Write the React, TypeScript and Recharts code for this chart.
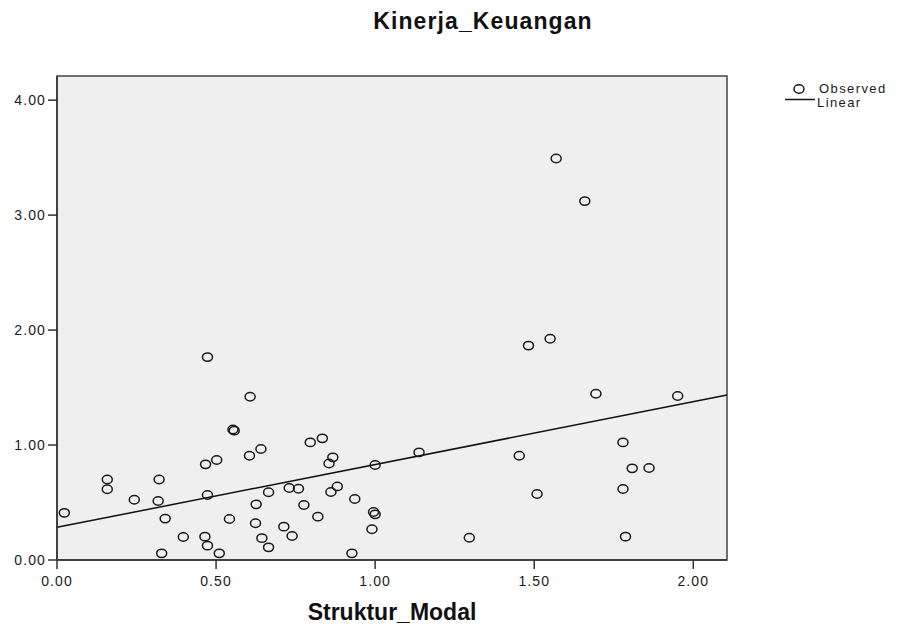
import React from 'react';
import { ComposedChart, Scatter, XAxis, YAxis, ReferenceArea, ReferenceLine } from 'recharts';

const xValues = [0.023, 0.158, 0.158, 0.243, 0.321, 0.318, 0.340, 0.329, 0.397, 0.473, 0.467, 0.502, 0.473, 0.465, 0.473, 0.510, 0.542, 0.553, 0.557, 0.607, 0.605, 0.641, 0.626, 0.624, 0.644, 0.665, 0.665, 0.730, 0.713, 0.739, 0.759, 0.776, 0.796, 0.834, 0.820, 0.855, 0.867, 0.861, 0.881, 0.936, 0.927, 0.995, 1.0, 0.990, 1.0, 1.138, 1.296, 1.453, 1.482, 1.569, 1.659, 1.550, 1.694, 1.951, 1.509, 1.779, 1.808, 1.861, 1.779, 1.787];
const yValues = [0.41, 0.70, 0.615, 0.524, 0.70, 0.513, 0.36, 0.058, 0.20, 1.765, 0.832, 0.87, 0.565, 0.203, 0.125, 0.058, 0.357, 1.135, 1.125, 1.42, 0.907, 0.965, 0.484, 0.32, 0.19, 0.11, 0.589, 0.626, 0.29, 0.209, 0.62, 0.478, 1.023, 1.058, 0.377, 0.84, 0.893, 0.591, 0.64, 0.53, 0.058, 0.417, 0.397, 0.267, 0.826, 0.936, 0.194, 0.907, 1.865, 3.493, 3.122, 1.925, 1.446, 1.426, 0.574, 1.023, 0.797, 0.80, 0.617, 0.203];
const xTicks = [0, 0.5, 1, 1.5, 2];
const yTicks = [0, 1, 2, 3, 4];
const xDomain = [0, 2.106];
const yDomain = [0, 4.21];
const fitX = [0, 2.106];
const fitY = [0.284, 1.435];

const data = xValues.map((x, i) => ({ x, y: yValues[i] }));

const Circle = (props: any) => {
  const { cx, cy } = props;
  if (cx == null || cy == null) return null;
  return <ellipse cx={cx} cy={cy} rx={5} ry={4.2} fill="none" stroke="#1a1a1a" strokeWidth={1.5} />;
};

const tickStyle = { fontFamily: 'Liberation Sans, Arial, sans-serif', fontSize: 14, fill: '#1a1a1a', letterSpacing: 1.1 };

export default function App() {
  return (
    <div style={{ position: 'absolute', left: 0, top: 0, width: 899, height: 629, background: '#fff' }}>
      <ComposedChart width={899} height={629} margin={{ top: 76, right: 172, bottom: 39, left: 0 }}>
        <XAxis
          type="number"
          dataKey="x"
          domain={xDomain}
          ticks={xTicks}
          allowDataOverflow
          tickFormatter={(v: number) => v.toFixed(2)}
          height={30}
          tickSize={9}
          tickMargin={7}
          stroke="#333"
          strokeWidth={1.5}
          tick={tickStyle}
        />
        <YAxis
          type="number"
          dataKey="y"
          domain={yDomain}
          ticks={yTicks}
          allowDataOverflow
          tickFormatter={(v: number) => v.toFixed(2)}
          width={57}
          tickSize={9}
          tickMargin={2}
          stroke="#333"
          strokeWidth={1.5}
          tick={tickStyle}
        />
        <ReferenceArea x1={xDomain[0]} x2={xDomain[1]} y1={yDomain[0]} y2={yDomain[1]} fill="#efefef" fillOpacity={1} stroke="#444" strokeWidth={1.5} />
        <ReferenceLine segment={[{ x: fitX[0], y: fitY[0] }, { x: fitX[1], y: fitY[1] }]} stroke="#111" strokeWidth={1.5} />
        <Scatter data={data} dataKey="y" shape={<Circle />} isAnimationActive={false} />
      </ComposedChart>
      <svg width={899} height={629} style={{ position: 'absolute', left: 0, top: 0, pointerEvents: 'none' }}>
        <text x={483} y={29} textAnchor="middle" fontFamily="Liberation Sans, Arial, sans-serif" fontWeight="bold" fontSize={23} letterSpacing={1.1} fill="#111">Kinerja_Keuangan</text>
        <text x={392} y={620} textAnchor="middle" fontFamily="Liberation Sans, Arial, sans-serif" fontWeight="bold" fontSize={23} fill="#111">Struktur_Modal</text>
        <ellipse cx={799} cy={89} rx={5} ry={4.2} fill="none" stroke="#1a1a1a" strokeWidth={1.5} />
        <text x={819} y={93} fontFamily="Liberation Sans, Arial, sans-serif" fontSize={13} letterSpacing={1.4} fill="#1a1a1a">Observed</text>
        <line x1={785} y1={99.5} x2={815} y2={99.5} stroke="#111" strokeWidth={1.5} />
        <text x={817} y={106.5} fontFamily="Liberation Sans, Arial, sans-serif" fontSize={13} letterSpacing={1.4} fill="#1a1a1a">Linear</text>
      </svg>
    </div>
  );
}
